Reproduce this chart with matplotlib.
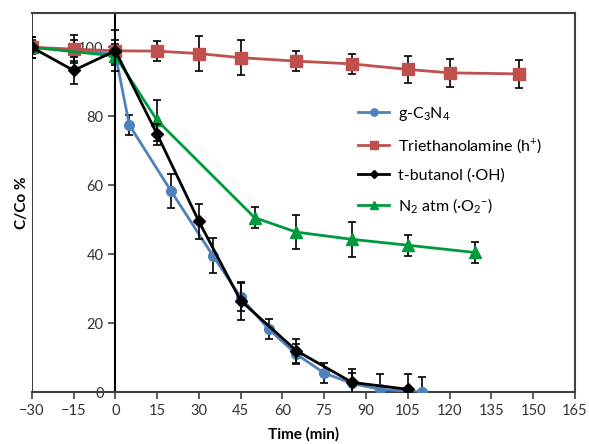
import matplotlib
matplotlib.use("Agg")
import matplotlib.pyplot as plt
from matplotlib.lines import Line2D

plt.rcParams["font.family"] = ["Lato", "DejaVu Sans"]
plt.rcParams["mathtext.fontset"] = "custom"
plt.rcParams["mathtext.rm"] = "Lato"
plt.rcParams["mathtext.it"] = "Lato:italic"
plt.rcParams["mathtext.bf"] = "Lato:bold"

# g-C3N4
gcn_t = [-30, -15, 0, 5, 20, 35, 45, 55, 65, 75, 85, 95, 110]
gcn_c = [100, 99, 98, 77.5, 58.3, 39.6, 27.5, 18.3, 11, 5.5, 2.5, 0.8, 0]
gcn_e = [3, 3, 3, 3, 5, 5, 4, 3, 3, 3, 3, 4.5, 4.5]

# triethanolamine (h+)
tea_t = [-30, -15, 0, 15, 30, 45, 65, 85, 105, 120, 145]
tea_c = [100, 99.5, 99, 98.9, 98.2, 97, 96, 95.2, 93.6, 92.6, 92.3]
tea_e = [3, 4, 3, 3, 5, 5, 3, 3, 4, 4, 4]

# t-butanol (.OH)
tbu_t = [-30, -15, 0, 15, 30, 45, 65, 85, 105]
tbu_c = [100, 93.3, 99, 74.8, 49.5, 26.5, 12, 2.8, 0.8]
tbu_e = [3, 4, 6, 3, 5, 5.5, 3.5, 4, 4.5]

# N2 atm (.O2-)
n2_t = [-30, 0, 15, 50, 65, 85, 105, 129]
n2_c = [100, 97.5, 78.8, 50.6, 46.4, 44.3, 42.6, 40.5]
n2_e = [2, 2, 6, 3, 5, 5, 3, 3]

labels = ["g-C$_3$N$_4$", "Triethanolamine (h$^{+}$)",
          "t-butanol (·OH)", "N$_2$ atm (·O$_2$$^{-}$)"]
colors = ["#4F81BD", "#C0504D", "black", "#009A3E"]
markers = ["o", "s", "D", "^"]
msizes = [7, 8, 6, 8]

xticks = list(range(-30, 166, 15))
yticks = [0, 20, 40, 60, 80, 100]

fig = plt.figure(figsize=(5.89, 4.44), dpi=100)
ax = fig.add_axes([0.054, 0.117, 0.922, 0.854])

ecap = dict(ecolor="black", elinewidth=1.2, capsize=3, capthick=1.2)

series = [(gcn_t, gcn_c, gcn_e), (tea_t, tea_c, tea_e),
          (tbu_t, tbu_c, tbu_e), (n2_t, n2_c, n2_e)]
zord = [3, 3, 4, 3]
for (t, c, e), col, m, ms, z in zip(series, colors, markers, msizes, zord):
    ax.errorbar(t, c, yerr=e, color=col, marker=m, ms=ms, lw=2,
                zorder=z, **ecap)

ax.set_xlim(-30, 165)
ax.set_ylim(0, 110)
ax.set_xticks(xticks)
ax.set_yticks(yticks)

# y axis sits at t = 0, frame kept around the whole plot
ax.spines["left"].set_position(("data", 0))
ax.spines["left"].set_color("black")
ax.spines["left"].set_linewidth(1.5)
ax.axvline(-30, color="#404040", lw=1.5, zorder=1)
for s in ["top", "right", "bottom"]:
    ax.spines[s].set_color("#404040")
    ax.spines[s].set_linewidth(1.5)

ax.tick_params(axis="both", direction="out", length=5, width=1.2,
               colors="#404040", labelsize=10.5, labelcolor="#333333")

ax.set_xlabel("Time (min)", fontsize=11, fontweight="bold", labelpad=7)
ax.set_ylabel("C/Co %", fontsize=11, fontweight="bold")
ax.yaxis.set_label_coords(-0.005, 0.5)

handles = [Line2D([], [], color=col, marker=m, ms=ms * 0.75, lw=2)
           for col, m, ms in zip(colors, markers, msizes)]
ax.legend(handles, labels, loc="upper left", bbox_to_anchor=(0.575, 0.795),
          frameon=False, fontsize=11.5, handlelength=1.9, handletextpad=0.6,
          labelspacing=0.85)

fig.savefig("out.png", dpi=100)
